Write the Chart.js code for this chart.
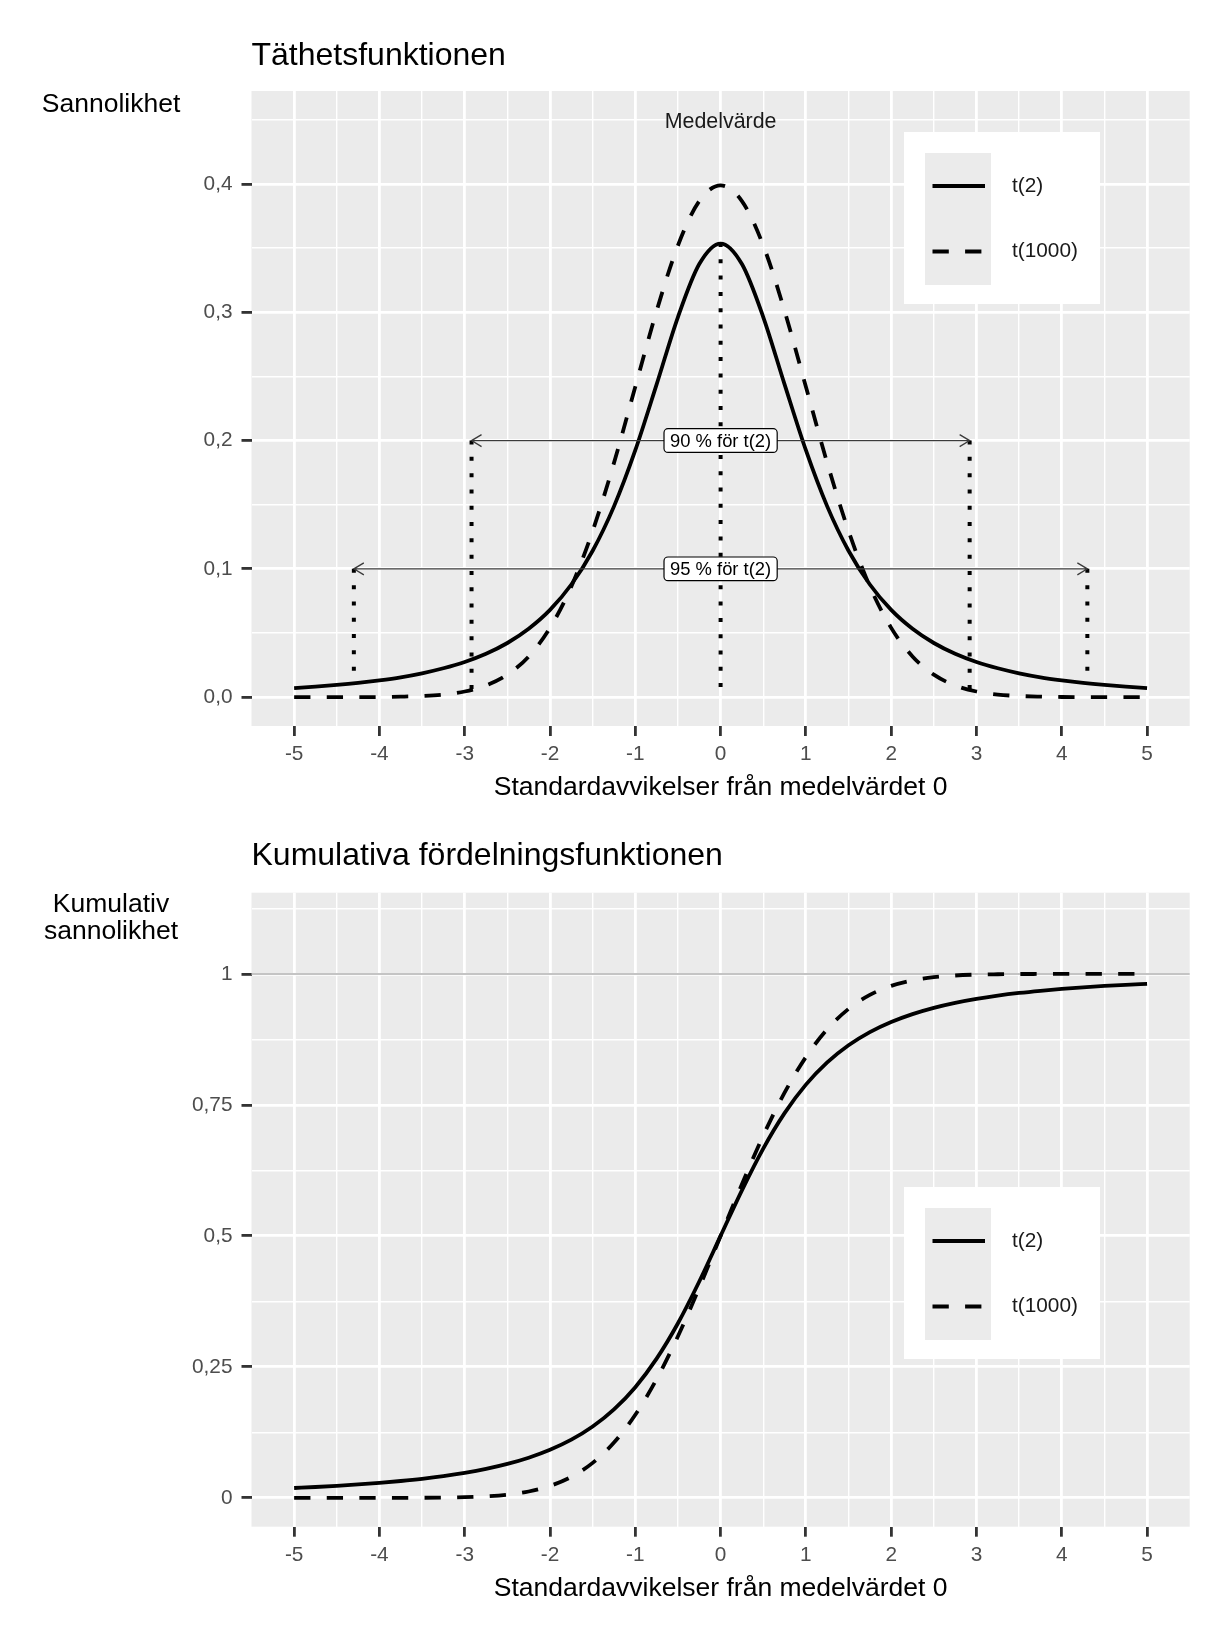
<!DOCTYPE html>
<html>
<head>
<meta charset="utf-8">
<script src="https://cdn.jsdelivr.net/npm/chart.js@4.4.0/dist/chart.umd.min.js"></script>
<style>
  html, body { margin: 0; padding: 0; background: #ffffff; }
  #wrap { position: relative; width: 1232px; height: 1643px; }
  canvas { position: absolute; left: 0; }
</style>
</head>
<body>
<div id="wrap">
  <canvas id="densChart" width="1232" height="820" style="top:0px"></canvas>
  <canvas id="cumChart" width="1232" height="823" style="top:820px"></canvas>
</div>
<script>
// ==================== DATA ====================
const seriesNames = ['t(2)', 't(1000)'];

const xValues = [-5, -4.75, -4.5, -4.25, -4, -3.75, -3.5, -3.25, -3, -2.75, -2.5, -2.25, -2, -1.75, -1.5, -1.25,
  -1, -0.75, -0.5, -0.25, 0, 0.25, 0.5, 0.75, 1, 1.25, 1.5, 1.75, 2, 2.25, 2.5, 2.75, 3, 3.25, 3.5, 3.75,
  4, 4.25, 4.5, 4.75, 5];

// density
const densT2 = [0.0071, 0.0082, 0.0095, 0.0111, 0.0131, 0.0155, 0.0186, 0.0225, 0.0274, 0.0338, 0.0422, 0.0533,
  0.0680, 0.0878, 0.1141, 0.1487, 0.1925, 0.2438, 0.2963, 0.3376, 0.3536, 0.3376, 0.2963, 0.2438, 0.1925,
  0.1487, 0.1141, 0.0878, 0.0680, 0.0533, 0.0422, 0.0338, 0.0274, 0.0225, 0.0186, 0.0155, 0.0131, 0.0111,
  0.0095, 0.0082, 0.0071];
const densT1000 = [0.0000, 0.0000, 0.0000, 0.0000, 0.0001, 0.0004, 0.0009, 0.0020, 0.0044, 0.0091, 0.0175, 0.0317,
  0.0540, 0.0863, 0.1295, 0.1826, 0.2420, 0.3011, 0.3521, 0.3867, 0.3989, 0.3867, 0.3521, 0.3011, 0.2420,
  0.1826, 0.1295, 0.0863, 0.0540, 0.0317, 0.0175, 0.0091, 0.0044, 0.0020, 0.0009, 0.0004, 0.0001, 0.0000,
  0.0000, 0.0000, 0.0000];

// cumulative
const cumT2 = [0.0189, 0.0208, 0.0230, 0.0256, 0.0286, 0.0322, 0.0364, 0.0415, 0.0477, 0.0553, 0.0648, 0.0767,
  0.0918, 0.1111, 0.1362, 0.1689, 0.2113, 0.2657, 0.3333, 0.4130, 0.5000, 0.5870, 0.6667, 0.7343, 0.7887,
  0.8311, 0.8638, 0.8889, 0.9082, 0.9233, 0.9352, 0.9447, 0.9523, 0.9585, 0.9636, 0.9678, 0.9714, 0.9744,
  0.9770, 0.9792, 0.9811];
const cumT1000 = [0.0000, 0.0000, 0.0000, 0.0000, 0.0000, 0.0001, 0.0002, 0.0006, 0.0013, 0.0030, 0.0062, 0.0122,
  0.0228, 0.0401, 0.0668, 0.1056, 0.1587, 0.2266, 0.3085, 0.4013, 0.5000, 0.5987, 0.6915, 0.7734, 0.8413,
  0.8944, 0.9332, 0.9599, 0.9772, 0.9878, 0.9938, 0.9970, 0.9987, 0.9994, 0.9998, 0.9999, 1.0000, 1.0000,
  1.0000, 1.0000, 1.0000];

// axes
const xMajor = [-5, -4, -3, -2, -1, 0, 1, 2, 3, 4, 5];
const xLabels = ['-5', '-4', '-3', '-2', '-1', '0', '1', '2', '3', '4', '5'];
const xMinor = [-4.5, -3.5, -2.5, -1.5, -0.5, 0.5, 1.5, 2.5, 3.5, 4.5];
const densYMajor = [0, 0.1, 0.2, 0.3, 0.4];
const densYLabels = ['0,0', '0,1', '0,2', '0,3', '0,4'];
const densYMinor = [0.05, 0.15, 0.25, 0.35, 0.45];
const cumYMajor = [0, 0.25, 0.5, 0.75, 1];
const cumYLabels = ['0', '0,25', '0,5', '0,75', '1'];
const cumYMinor = [0.125, 0.375, 0.625, 0.875, 1.125];

// interval markers for t(2)
const markX = [-4.30, -2.92, 0, 2.92, 4.30];
const markTop = [0.1, 0.2, 0.354, 0.2, 0.1];
const markBottom = [0.011, 0.006, 0, 0.006, 0.011];
const arrowHalf = [2.92, 4.30];
const arrowY = [0.2, 0.1];
const arrowLabels = ['90 % för t(2)', '95 % för t(2)'];
const meanLabel = 'Medelvärde';
const meanLabelY = 0.45;
const cumRefLine = [1];

// ==================== HELPERS ====================
const FONT = "'Liberation Sans', Arial, Helvetica, sans-serif";
const near = (a, b) => Math.abs(a - b) < 1e-9;
const isMajor = (v, majors) => majors.some(m => near(m, v));
const labelFor = (v, majors, labels) => {
  const i = majors.findIndex(m => near(m, v));
  return i >= 0 ? labels[i] : '';
};

function axis(opts) {
  const { min, max, majors, minors, labels, fixed, horizontal } = opts;
  return {
    type: 'linear',
    min, max,
    afterBuildTicks: s => { s.ticks = majors.concat(minors).sort((a, b) => a - b).map(v => ({ value: v })); },
    afterFit: s => { if (horizontal) s.height = fixed; else s.width = fixed; },
    border: { display: false },
    grid: {
      color: '#FFFFFF',
      lineWidth: c => (c.tick && isMajor(c.tick.value, majors)) ? 2.8 : 1.4,
      drawTicks: true,
      tickLength: 10,
      tickWidth: 2.8,
      tickColor: c => (c.tick && isMajor(c.tick.value, majors)) ? '#333333' : 'rgba(0,0,0,0)'
    },
    ticks: {
      autoSkip: false,
      maxRotation: 0,
      padding: horizontal ? 6 : 9,
      color: '#4D4D4D',
      font: { family: FONT, size: 20.8 },
      callback: v => labelFor(v, majors, labels)
    }
  };
}

function curveSet(label, ys, dash) {
  return {
    label,
    data: xValues.map((x, i) => ({ x, y: ys[i] })),
    borderColor: '#000000',
    borderWidth: 3.8,
    borderDash: dash,
    borderCapStyle: 'butt',
    pointRadius: 0,
    fill: false,
    cubicInterpolationMode: 'monotone'
  };
}

const panelBg = {
  id: 'panelBg',
  beforeDraw(chart) {
    const { ctx, chartArea: a } = chart;
    ctx.save();
    ctx.fillStyle = '#EBEBEB';
    ctx.fillRect(a.left, a.top, a.right - a.left, a.bottom - a.top);
    ctx.restore();
  }
};

function textPlugin(spec) {
  return {
    id: 'texts',
    afterDraw(chart) {
      const { ctx, chartArea: a } = chart;
      ctx.save();
      ctx.fillStyle = '#000000';
      ctx.textBaseline = 'alphabetic';
      ctx.textAlign = 'left';
      ctx.font = `32px ${FONT}`;
      ctx.fillText(spec.title, a.left, spec.titleBaseline);
      ctx.font = `26.5px ${FONT}`;
      ctx.textAlign = 'center';
      spec.yTitle.forEach((line, i) => ctx.fillText(line, 111, spec.yTitleBaseline + i * 27.6));
      ctx.fillText(spec.xTitle, (a.left + a.right) / 2, spec.xTitleBaseline);
      ctx.restore();
    }
  };
}

function legendPlugin(top) {
  return {
    id: 'boxLegend',
    afterDraw(chart) {
      const ctx = chart.ctx;
      ctx.save();
      ctx.fillStyle = '#FFFFFF';
      ctx.fillRect(904, top, 196, 172);
      ctx.fillStyle = '#EBEBEB';
      ctx.fillRect(925, top + 21, 66, 132);
      const rows = [top + 54, top + 119.5];
      chart.data.datasets.slice(0, 2).forEach((ds, i) => {
        ctx.beginPath();
        ctx.strokeStyle = ds.borderColor;
        ctx.lineWidth = ds.borderWidth;
        ctx.lineCap = 'butt';
        ctx.setLineDash(ds.borderDash || []);
        ctx.moveTo(932.5, rows[i]);
        ctx.lineTo(985, rows[i]);
        ctx.stroke();
        ctx.setLineDash([]);
        ctx.fillStyle = '#1A1A1A';
        ctx.font = `20.8px ${FONT}`;
        ctx.textAlign = 'left';
        ctx.textBaseline = 'middle';
        ctx.fillText(ds.label, 1012, rows[i]);
      });
      ctx.restore();
    }
  };
}

const intervalPlugin = {
  id: 'intervals',
  afterDatasetsDraw(chart) {
    const { ctx, scales: { x, y } } = chart;
    ctx.save();
    // arrows
    arrowY.forEach((v, i) => {
      const py = y.getPixelForValue(v);
      const x1 = x.getPixelForValue(-arrowHalf[i]);
      const x2 = x.getPixelForValue(arrowHalf[i]);
      ctx.strokeStyle = '#3A3A3A';
      ctx.lineWidth = 1.3;
      ctx.beginPath();
      ctx.moveTo(x1, py); ctx.lineTo(x2, py);
      ctx.moveTo(x1 + 10, py - 6); ctx.lineTo(x1, py); ctx.lineTo(x1 + 10, py + 6);
      ctx.moveTo(x2 - 10, py - 6); ctx.lineTo(x2, py); ctx.lineTo(x2 - 10, py + 6);
      ctx.stroke();
    });
    // labels
    ctx.font = `18.4px ${FONT}`;
    ctx.textAlign = 'center';
    ctx.textBaseline = 'middle';
    arrowY.forEach((v, i) => {
      const py = y.getPixelForValue(v);
      const px = x.getPixelForValue(0);
      const w = ctx.measureText(arrowLabels[i]).width + 12;
      const h = 23.7;
      ctx.beginPath();
      ctx.roundRect(px - w / 2, py - h / 2, w, h, 4);
      ctx.fillStyle = '#FFFFFF';
      ctx.fill();
      ctx.strokeStyle = '#000000';
      ctx.lineWidth = 1.2;
      ctx.stroke();
      ctx.fillStyle = '#000000';
      ctx.fillText(arrowLabels[i], px, py + 1);
    });
    // mean label
    ctx.font = `21.4px ${FONT}`;
    ctx.textBaseline = 'alphabetic';
    ctx.fillStyle = '#1A1A1A';
    ctx.fillText(meanLabel, x.getPixelForValue(0), y.getPixelForValue(meanLabelY) + 8);
    ctx.restore();
  }
};

const refLinePlugin = {
  id: 'refLine',
  beforeDatasetsDraw(chart) {
    const { ctx, chartArea: a, scales: { y } } = chart;
    ctx.save();
    ctx.strokeStyle = '#C4C4C4';
    ctx.lineWidth = 2;
    cumRefLine.forEach(v => {
      const py = y.getPixelForValue(v);
      ctx.beginPath();
      ctx.moveTo(a.left, py); ctx.lineTo(a.right, py);
      ctx.stroke();
    });
    ctx.restore();
  }
};

// ==================== DENSITY CHART ====================
const markSets = markX.map((mx, i) => ({
  label: 'mark' + i,
  data: [{ x: mx, y: markTop[i] }, { x: mx, y: markBottom[i] }],
  borderColor: '#000000',
  borderWidth: 4,
  borderDash: [4, 12.3],
  borderCapStyle: 'butt',
  pointRadius: 0,
  fill: false
}));

new Chart(document.getElementById('densChart'), {
  type: 'line',
  data: {
    datasets: [curveSet(seriesNames[0], densT2, []), curveSet(seriesNames[1], densT1000, [16.3, 16.3])].concat(markSets)
  },
  options: {
    responsive: false,
    animation: false,
    layout: { padding: { top: 91, right: 42.3, left: 0, bottom: 0 } },
    plugins: { legend: { display: false }, tooltip: { enabled: false } },
    scales: {
      x: axis({ min: -5.5, max: 5.5, majors: xMajor, minors: xMinor, labels: xLabels, fixed: 94, horizontal: true }),
      y: axis({ min: -0.0225, max: 0.4725, majors: densYMajor, minors: densYMinor, labels: densYLabels, fixed: 251.5, horizontal: false })
    }
  },
  plugins: [panelBg, intervalPlugin, legendPlugin(132),
    textPlugin({ title: 'Täthetsfunktionen', titleBaseline: 64.5, yTitle: ['Sannolikhet'], yTitleBaseline: 112,
      xTitle: 'Standardavvikelser från medelvärdet 0', xTitleBaseline: 795 })]
});

// ==================== CUMULATIVE CHART ====================
new Chart(document.getElementById('cumChart'), {
  type: 'line',
  data: {
    datasets: [curveSet(seriesNames[0], cumT2, []), curveSet(seriesNames[1], cumT1000, [16.3, 16.3])]
  },
  options: {
    responsive: false,
    animation: false,
    layout: { padding: { top: 72.7, right: 42.3, left: 0, bottom: 0 } },
    plugins: { legend: { display: false }, tooltip: { enabled: false } },
    scales: {
      x: axis({ min: -5.5, max: 5.5, majors: xMajor, minors: xMinor, labels: xLabels, fixed: 116.3, horizontal: true }),
      y: axis({ min: -0.055, max: 1.155, majors: cumYMajor, minors: cumYMinor, labels: cumYLabels, fixed: 251.5, horizontal: false })
    }
  },
  plugins: [panelBg, refLinePlugin, legendPlugin(367),
    textPlugin({ title: 'Kumulativa fördelningsfunktionen', titleBaseline: 45, yTitle: ['Kumulativ', 'sannolikhet'], yTitleBaseline: 91.7,
      xTitle: 'Standardavvikelser från medelvärdet 0', xTitleBaseline: 776 })]
});
</script>
</body>
</html>
